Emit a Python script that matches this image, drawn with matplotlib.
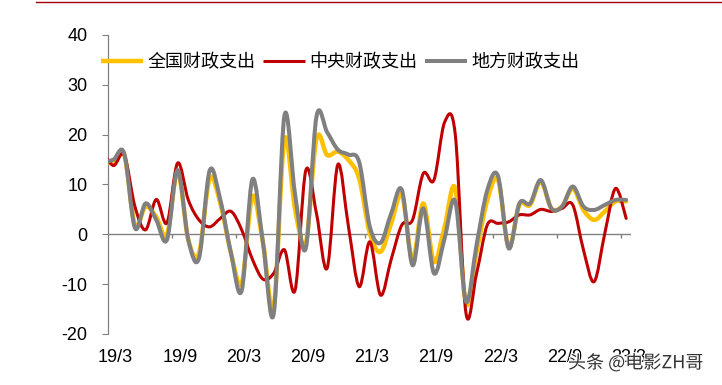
import matplotlib
matplotlib.use('Agg')

import numpy as np
import matplotlib.pyplot as plt
from matplotlib.path import Path
from matplotlib.patches import PathPatch
from matplotlib.lines import Line2D
import matplotlib.patheffects as pe

plt.rcParams['font.family'] = ['Liberation Sans', 'Noto Sans CJK SC', 'DejaVu Sans']

# -------------------
# Data: monthly growth (%), 19/2 (clipped at the left edge) .. 23/3
# -------------------
months = ['19/2'] + [f'{y}/{m}' for y in range(19, 24) for m in range(1, 13)
                     if not (y == 19 and m < 3) and not (y == 23 and m > 3)]

national = [14.5, 14.5, 16.0, 1.9, 5.6, 3.5, -0.1, 12.6, -1.1, -3.8, 11.2, 6.2, -3.8,
            -9.8, 7.6, -1.8, -14.5, 19.0, 5.0, -1.8, 19.2, 15.9, 16.6, 14.9, 11.2,
            0.2, -3.5, 2.2, 7.9, -5.2, 6.2, -5.5, 1.5, 9.2, -13.9, -3.5, 6.9, 10.9,
            -2.5, 5.9, 5.9, 10.6, 5.2, 5.6, 9.2, 4.9, 2.9, 4.6, 6.6, 6.6]
central = [16.5, 13.8, 15.9, 5.6, 0.9, 7.0, 2.3, 14.3, 6.9, 2.9, 1.5, 3.2, 4.6,
           0.9, -5.0, -9.0, -7.8, -3.1, -11.2, 12.8, 4.2, -6.8, 14.0, 1.5, -10.5,
           -1.5, -12.2, -5.0, 1.9, 2.9, 12.2, 10.9, 22.5, 20.0, -15.8, -7.8, 1.9,
           2.2, 2.5, 3.9, 3.9, 5.0, 4.6, 5.2, 5.9, -3.1, -9.5, 0.2, 9.2, 3.2]
local = [14.3, 15.0, 16.2, 1.3, 6.2, 2.9, -1.1, 12.9, -1.1, -4.8, 12.8, 6.9, -3.8,
         -11.3, 11.0, -1.8, -15.9, 23.8, 8.0, -2.8, 23.6, 20.5, 17.0, 16.0, 14.5,
         1.5, -1.7, 4.2, 8.9, -6.2, 5.2, -7.8, -0.8, 6.6, -13.5, -2.0, 8.9, 11.7,
         -2.8, 6.2, 6.2, 10.9, 5.2, 5.6, 9.6, 5.6, 4.9, 5.9, 6.9, 6.9]

series_names = ['全国财政支出', '中央财政支出', '地方财政支出']
series_colors = ['#FFC000', '#C00000', '#808080']
series_widths = [3.2, 2.2, 2.9]
tick_labels = ['19/3', '19/9', '20/3', '20/9', '21/3', '21/9', '22/3', '22/9', '23/3']

x = np.arange(len(months)) - 1  # 19/3 -> 0


# -------------------
# Excel-style smoothed line as a bezier path
# -------------------
def smooth_path(xs, ys):
    n = len(xs)
    verts = [(xs[0], ys[0])]
    codes = [Path.MOVETO]
    for k in range(n - 1):
        a = k - 1 if k > 0 else k
        b = k + 2 if k + 2 < n else k + 1
        c1 = (xs[k] + (xs[k + 1] - xs[a]) / 6, ys[k] + (ys[k + 1] - ys[a]) / 6)
        c2 = (xs[k + 1] - (xs[b] - xs[k]) / 6, ys[k + 1] - (ys[b] - ys[k]) / 6)
        verts += [c1, c2, (xs[k + 1], ys[k + 1])]
        codes += [Path.CURVE4] * 3
    return Path(verts, codes)


fig = plt.figure(figsize=(7.22, 3.85), dpi=100)
ax = fig.add_axes([108.2 / 722, 1 - 334 / 385, (631.5 - 108.2) / 722, (334 - 35) / 385])

ax.axhline(0, color='#808080', lw=1.0, zorder=1)
ax.vlines(np.arange(5.5, 48, 6), -0.8, 0, color='#808080', lw=1.0, zorder=1)

handles = []
for vals, name, col, lw in zip([national, central, local], series_names,
                               series_colors, series_widths):
    patch = PathPatch(smooth_path(x, vals), fill=False, edgecolor=col, lw=lw,
                      capstyle='round', joinstyle='round', zorder=3)
    ax.add_patch(patch)
    handles.append(Line2D([], [], color=col, lw=lw, solid_capstyle='butt', label=name))

ax.set_xlim(-0.5, 48.5)
ax.set_ylim(-20, 40)

ax.set_xticks(np.arange(0, 49, 6) + 0.2)
ax.set_xticklabels(tick_labels, fontsize=13)
ax.tick_params(axis='x', length=0, pad=10.5)

ax.set_yticks(range(-20, 41, 10))
ax.set_yticklabels([str(v) for v in range(-20, 41, 10)], fontsize=13)
ax.tick_params(axis='y', direction='out', length=4, width=0.8, color='#808080', pad=11)

for s in ['top', 'right', 'bottom']:
    ax.spines[s].set_visible(False)
ax.spines['left'].set_color('#808080')
ax.spines['left'].set_linewidth(0.9)

fig.legend(handles=handles, loc='center left', bbox_to_anchor=(101 / 722, 1 - 62 / 385),
           ncol=3, frameon=False, borderpad=0, borderaxespad=0, handlelength=2.3,
           handletextpad=0.25, columnspacing=0.45,
           prop={'family': ['Noto Sans CJK SC'], 'size': 13})

# header rule and watermark
fig.add_artist(Line2D([36 / 722, 1], [1 - 1.5 / 385] * 2, transform=fig.transFigure,
                      color='#A50000', lw=1.0))
fig.text(568 / 722, 1 - 363 / 385, '头条 @电影ZH哥', family=['Noto Sans CJK SC'],
         fontsize=13, color='#333333', ha='left', va='center',
         path_effects=[pe.withStroke(linewidth=1.5, foreground='white')])

fig.savefig('out.png', dpi=100)
